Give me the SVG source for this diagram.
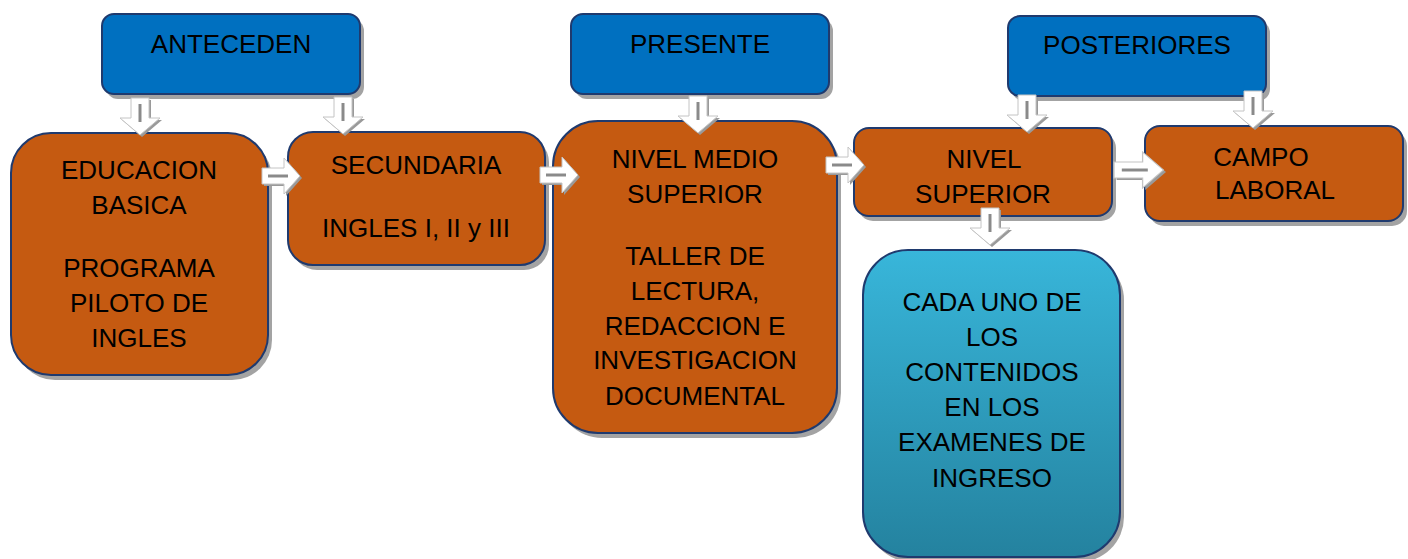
<svg xmlns="http://www.w3.org/2000/svg" width="1408" height="559" viewBox="0 0 1408 559">
<style>
.t{font-family:"Liberation Sans",Arial,sans-serif;font-size:26px;fill:#000;text-anchor:middle}
.or{fill:#c55a11;stroke:#1f3a6e;stroke-width:2}
.bl{fill:#0070c0;stroke:#1f3a6e;stroke-width:2}
.sh{fill:#8c8c8c;opacity:0.8}
.aw{fill:#fff;stroke:#c4c4c4;stroke-width:1}
.ash{fill:#9a9a9a}
.al{stroke:#8a8a8a;stroke-width:3}
</style>
<defs>
<linearGradient id="cy" x1="0" y1="0" x2="0" y2="1">
<stop offset="0" stop-color="#38b6da"/>
<stop offset="1" stop-color="#24829f"/>
</linearGradient>
<g id="dn">
<polygon class="ash" points="-7,2 11,2 11,22 22,22 2,39 -18,22 -7,22"/>
<polygon class="aw" points="-9,0 9,0 9,20 20,20 0,37 -20,20 -9,20"/>
<line class="al" x1="0" y1="6" x2="0" y2="24"/>
</g>
<g id="rt">
<polygon class="ash" points="2,-6 24,-6 24,-16 40,2 24,20 24,10 2,10"/>
<polygon class="aw" points="0,-8 22,-8 22,-18 38,0 22,18 22,8 0,8"/>
<line class="al" x1="6" y1="0" x2="26" y2="0" stroke-width="2"/>
</g>
</defs>

<g id="antecedentes">
<rect class="sh" x="106" y="19" width="258" height="80" rx="12"/>
<rect class="bl" x="102" y="14" width="258" height="80" rx="12"/>
<text class="t" x="231" y="53">ANTECEDEN</text>
</g>
<g id="presente">
<rect class="sh" x="575" y="19" width="258" height="80" rx="12"/>
<rect class="bl" x="571" y="14" width="258" height="80" rx="12"/>
<text class="t" x="700" y="53">PRESENTE</text>
</g>
<g id="posteriores">
<rect class="sh" x="1012" y="21" width="258" height="80" rx="12"/>
<rect class="bl" x="1008" y="16" width="258" height="80" rx="12"/>
<text class="t" x="1137" y="54">POSTERIORES</text>
</g>

<g id="educacion-basica">
<rect class="sh" x="15" y="138" width="257" height="242" rx="40"/>
<rect class="or" x="11" y="133" width="257" height="242" rx="40"/>
<text class="t" x="139" y="179">EDUCACION</text>
<text class="t" x="139" y="214">BASICA</text>
<text class="t" x="139" y="277">PROGRAMA</text>
<text class="t" x="139" y="312">PILOTO DE</text>
<text class="t" x="139" y="347">INGLES</text>
</g>
<g id="secundaria">
<rect class="sh" x="292" y="137" width="257" height="133" rx="25"/>
<rect class="or" x="288" y="132" width="257" height="133" rx="25"/>
<text class="t" x="416" y="174">SECUNDARIA</text>
<text class="t" x="416" y="237">INGLES I, II y III</text>
</g>
<g id="nivel-medio-superior">
<rect class="sh" x="557" y="126" width="284" height="312" rx="45"/>
<rect class="or" x="553" y="121" width="284" height="312" rx="45"/>
<text class="t" x="695" y="168">NIVEL MEDIO</text>
<text class="t" x="695" y="203">SUPERIOR</text>
<text class="t" x="695" y="265">TALLER DE</text>
<text class="t" x="695" y="300">LECTURA,</text>
<text class="t" x="695" y="335">REDACCION E</text>
<text class="t" x="695" y="369">INVESTIGACION</text>
<text class="t" x="695" y="405">DOCUMENTAL</text>
</g>
<g id="nivel-superior">
<rect class="sh" x="858" y="133" width="258" height="88" rx="15"/>
<rect class="or" x="854" y="128" width="258" height="88" rx="15"/>
<text class="t" x="984" y="168">NIVEL</text>
<text class="t" x="983" y="203">SUPERIOR</text>
</g>
<g id="campo-laboral">
<rect class="sh" x="1149" y="131" width="258" height="95" rx="15"/>
<rect class="or" x="1145" y="126" width="258" height="95" rx="15"/>
<text class="t" x="1261" y="166">CAMPO</text>
<text class="t" x="1275" y="199">LABORAL</text>
</g>
<g id="examenes">
<rect class="sh" x="867" y="255" width="257" height="307" rx="45"/>
<rect x="863" y="250" width="257" height="307" rx="45" fill="url(#cy)" stroke="#1f3a6e" stroke-width="2"/>
<text class="t" x="992" y="311">CADA UNO DE</text>
<text class="t" x="992" y="346">LOS</text>
<text class="t" x="992" y="381">CONTENIDOS</text>
<text class="t" x="992" y="416">EN LOS</text>
<text class="t" x="992" y="451">EXAMENES DE</text>
<text class="t" x="992" y="487">INGRESO</text>
</g>

<g id="connectors">
<use href="#dn" x="140" y="98"/>
<use href="#dn" x="343" y="97"/>
<use href="#dn" x="698" y="96"/>
<use href="#dn" x="1027" y="95"/>
<use href="#dn" x="1253" y="91"/>
<use href="#dn" x="990" y="208"/>
<use href="#rt" x="262" y="176"/>
<use href="#rt" x="540" y="175"/>
<use href="#rt" x="826" y="165"/>
<use href="#rt" x="1114" y="170" transform="translate(1114 170) scale(1.3 1) translate(-1114 -170)"/>
</g>
</svg>
